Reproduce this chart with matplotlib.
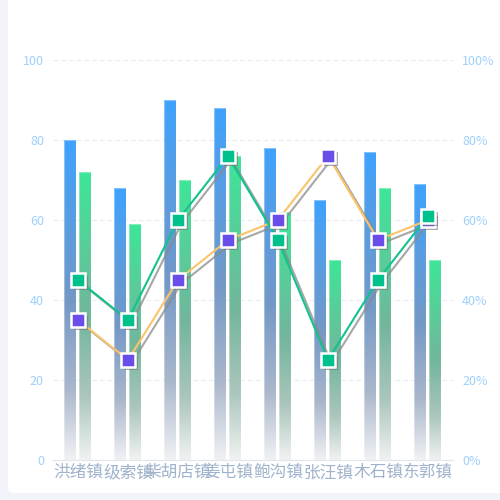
import numpy as np
import matplotlib
matplotlib.use("Agg")
import matplotlib.pyplot as plt
import matplotlib.patheffects as pe
from matplotlib.colors import LinearSegmentedColormap
from matplotlib.patches import FancyBboxPatch

plt.rcParams['font.family'] = ['Noto Sans CJK SC', 'DejaVu Sans']

# Datos
towns = ['洪绪镇', '级索镇', '柴胡店镇', '姜屯镇', '鲍沟镇', '张汪镇', '木石镇', '东郭镇']
blue_vals = [80, 68, 90, 88, 78, 65, 77, 69]
green_vals = [72, 59, 70, 76, 62, 50, 68, 50]
purple_pct = [35, 25, 45, 55, 60, 76, 55, 60]
teal_pct = [45, 35, 60, 76, 55, 25, 45, 61]
left_ticks = [0, 20, 40, 60, 80, 100]
right_labels = ['0%', '20%', '40%', '60%', '80%', '100%']

# Degradados (de arriba hacia abajo)
blue_cmap = LinearSegmentedColormap.from_list(
    'azul', [(0, '#3fa2fc'), (0.5, '#7398c6'), (0.78, '#aab7cb'), (1, '#f0f1f4')])
green_cmap = LinearSegmentedColormap.from_list(
    'verde', [(0, '#3de697'), (0.5, '#72b69c'), (0.78, '#abc6bd'), (1, '#f0f2f1')])

fig = plt.figure(figsize=(5, 5), dpi=100)
fig.patch.set_facecolor('#f3f4f9')
card = FancyBboxPatch((8 / 500, 7 / 500), 1.2, 1.2,
                      boxstyle='round,pad=0,rounding_size=0.012',
                      transform=fig.transFigure, facecolor='white',
                      edgecolor='none', zorder=-10)
fig.patches.append(card)

ax = fig.add_axes([0.106, 0.08, 0.8, 0.8])
ax.set_facecolor('none')
x = np.arange(len(towns))
w = 0.24

grad = np.linspace(0, 1, 256).reshape(-1, 1)
for vals, off, cmap in [(blue_vals, -0.16, blue_cmap), (green_vals, 0.13, green_cmap)]:
    bars = ax.bar(x + off, vals, width=w, facecolor='none',
                  edgecolor=(1, 1, 1, 0.35), linewidth=0.8, zorder=3)
    for b in bars:
        x0, x1 = b.get_x(), b.get_x() + b.get_width()
        ax.imshow(grad, cmap=cmap, extent=[x0, x1, 0, b.get_height()],
                  aspect='auto', zorder=2, interpolation='bilinear')

ax.set_xlim(-0.5, len(towns) - 0.5)
ax.set_ylim(0, 100)
ax.set_yticks(left_ticks)
ax.set_xticks(x)
ax.set_xticklabels(towns, fontsize=12, color='#a0b3cc')
ax.tick_params(axis='y', length=0, pad=6.5, labelsize=9, labelcolor='#a0d0fc')
ax.tick_params(axis='x', length=0, pad=3)
ax.yaxis.grid(True, linestyle=(0, (4, 3)), color='#e4ecf6', linewidth=0.8)
ax.set_axisbelow(True)
for s in ['top', 'right', 'left']:
    ax.spines[s].set_visible(False)
ax.spines['bottom'].set_color('#dfe6ee')

ax2 = ax.twinx()
ax2.set_ylim(0, 100)
ax2.set_yticks(left_ticks)
ax2.set_yticklabels(right_labels)
ax2.tick_params(axis='y', length=0, pad=6.5, labelsize=9, labelcolor='#a0d0fc')
for s in ['top', 'right', 'left', 'bottom']:
    ax2.spines[s].set_visible(False)

line_fx = [pe.SimpleLineShadow(offset=(2.5, -2.5), shadow_color='#8a8a8a', alpha=0.75), pe.Normal()]
mark_fx = [pe.SimplePatchShadow(offset=(2, -2), shadow_rgbFace='#777777', alpha=0.6), pe.Normal()]

for vals, lc, mc in [(purple_pct, '#fbc46a', '#6a4de8'), (teal_pct, '#12c28e', '#00c08b')]:
    ax2.plot(x, vals, color=lc, linewidth=1.5, path_effects=line_fx, zorder=3)
    ax2.plot(x, vals, linestyle='none', marker='s', markersize=10,
             markerfacecolor=mc, markeredgecolor='white', markeredgewidth=1.8,
             path_effects=mark_fx, zorder=4)

fig.savefig('out.png', dpi=100, facecolor=fig.get_facecolor())
